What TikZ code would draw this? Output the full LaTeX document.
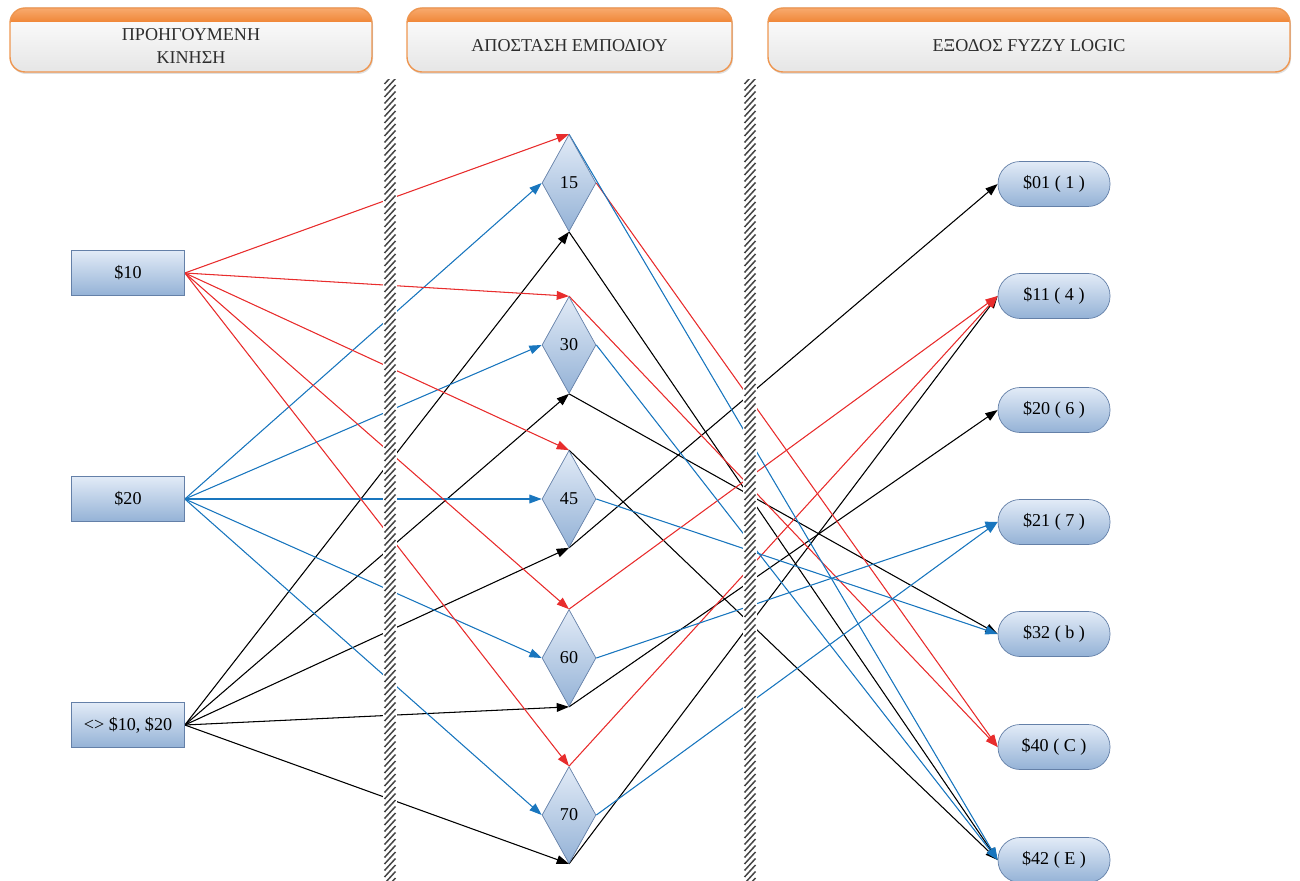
\documentclass[tikz,border=0pt]{standalone}
\usepackage{fontspec}
\setmainfont{Liberation Serif}
\usetikzlibrary{shapes.geometric,arrows.meta,backgrounds}
\definecolor{lred}{RGB}{232,45,45}
\definecolor{lblue}{RGB}{25,118,190}
\definecolor{boxtop}{RGB}{226,235,247}
\definecolor{boxbot}{RGB}{148,178,214}
\definecolor{boxdraw}{RGB}{100,128,168}
\definecolor{hdrA}{RGB}{248,170,110}
\definecolor{hdrB}{RGB}{240,135,55}
\definecolor{hdrborder}{RGB}{238,150,80}
\definecolor{textgray}{RGB}{45,45,45}
\definecolor{hatchgray}{RGB}{70,70,70}
\newcommand\dfont{\fontsize{10.3}{12.8}\selectfont}
\newcommand\hdrbox[4]{%
  \fill[black!12, rounded corners=0.3cm] (#1+1,10) rectangle (#2+1,74);
  \fill[top color=white, bottom color=black!10, rounded corners=0.3cm] (#1,8) rectangle (#2,72);
  \begin{scope}
    \clip[rounded corners=0.3cm] (#1,8) rectangle (#2,72);
    \fill[top color=hdrA, bottom color=hdrB] (#1,8) rectangle (#2,22);
  \end{scope}
  \draw[hdrborder, line width=0.8pt, rounded corners=0.3cm] (#1,8) rectangle (#2,72);
  \node[font=\dfont, text=textgray, align=center] (#3) at ({(#1+#2)/2},46) {#4};
}
\tikzset{
  srcbox/.style={draw=boxdraw, top color=boxtop, bottom color=boxbot, minimum width=2.26cm, minimum height=0.9cm, inner sep=0pt, font=\dfont},
  diabox/.style={diamond, draw=boxdraw, top color=boxtop, bottom color=boxbot, minimum width=1.08cm, minimum height=1.94cm, inner sep=0pt, font=\dfont},
  outbox/.style={draw=boxdraw, rounded corners=0.44cm, top color=boxtop, bottom color=boxbot, minimum width=2.24cm, minimum height=0.9cm, inner sep=0pt, font=\dfont},
  con/.style={line width=0.6pt, -{Triangle[length=7pt,width=5pt]}},
  redc/.style={con, draw=lred, fill=lred},
  bluec/.style={con, draw=lblue, fill=lblue},
  blackc/.style={con, draw=black, fill=black},
}
\begin{document}
\begin{tikzpicture}[x=0.02cm,y=-0.02cm]
\useasboundingbox (0,0) rectangle (1300,881);

% headers
\hdrbox{10}{372}{h1}{ΠΡΟΗΓΟΥΜΕΝΗ\\ΚΙΝΗΣΗ}
\hdrbox{407}{732}{h2}{ΑΠΟΣΤΑΣΗ ΕΜΠΟΔΙΟΥ}
\hdrbox{768}{1290}{h3}{ΕΞΟΔΟΣ FYZZY LOGIC}

% source boxes
\node[srcbox] (p10) at (128,273) {\$10};
\node[srcbox] (p20) at (128,499) {\$20};
\node[srcbox] (pnot) at (128,725) {<> \$10, \$20};

% diamonds
\node[diabox] (d15) at (569,183) {15};
\node[diabox] (d30) at (569,345) {30};
\node[diabox] (d45) at (569,499) {45};
\node[diabox] (d60) at (569,658) {60};
\node[diabox] (d70) at (569,815) {70};

% outputs
\node[outbox] (o01) at (1054,184) {\$01 ( 1 )};
\node[outbox] (o11) at (1054,296) {\$11 ( 4 )};
\node[outbox] (o20) at (1054,410) {\$20 ( 6 )};
\node[outbox] (o21) at (1054,522) {\$21 ( 7 )};
\node[outbox] (o32) at (1054,634) {\$32 ( b )};
\node[outbox] (o40) at (1054,747) {\$40 ( C )};
\node[outbox] (o42) at (1054,860) {\$42 ( E )};

\begin{scope}[on background layer]
  % left stage
  \foreach \d in {d15,d30,d45,d60,d70} {
    \draw[redc] (p10.east) -- (\d.north);
    \draw[bluec] (p20.east) -- (\d.west);
    \draw[blackc] (pnot.east) -- (\d.south);
  }
  % right stage
  \draw[blackc] (d15.south) -- (o42.west);
  \draw[blackc] (d30.south) -- (o32.west);
  \draw[blackc] (d45.north) -- (o42.west);
  \draw[blackc] (d45.south) -- (o01.west);
  \draw[blackc] (d60.south) -- (o20.west);
  \draw[blackc] (d70.south) -- (o11.west);
  \draw[redc] (d15.east) -- (o40.west);
  \draw[redc] (d30.north) -- (o40.west);
  \draw[redc] (d60.north) -- (o11.west);
  \draw[redc] (d70.north) -- (o11.west);
  \draw[bluec] (d15.north) -- (o42.west);
  \draw[bluec] (d30.east) -- (o42.west);
  \draw[bluec] (d45.east) -- (o32.west);
  \draw[bluec] (d60.east) -- (o21.west);
  \draw[bluec] (d70.east) -- (o21.west);
  % hatched bars
  \foreach \bx in {383,743} {
    \fill[white] (\bx,80) rectangle (\bx+14,881);
    \begin{scope}
      \clip (\bx,80) rectangle (\bx+14,881);
      \foreach \yy in {78,84.5,...,895} {
        \draw[hatchgray, line width=0.85pt] (\bx+1.5,\yy+6) -- (\bx+12.5,\yy-6);
      }
    \end{scope}
  }
\end{scope}
\end{tikzpicture}
\end{document}
